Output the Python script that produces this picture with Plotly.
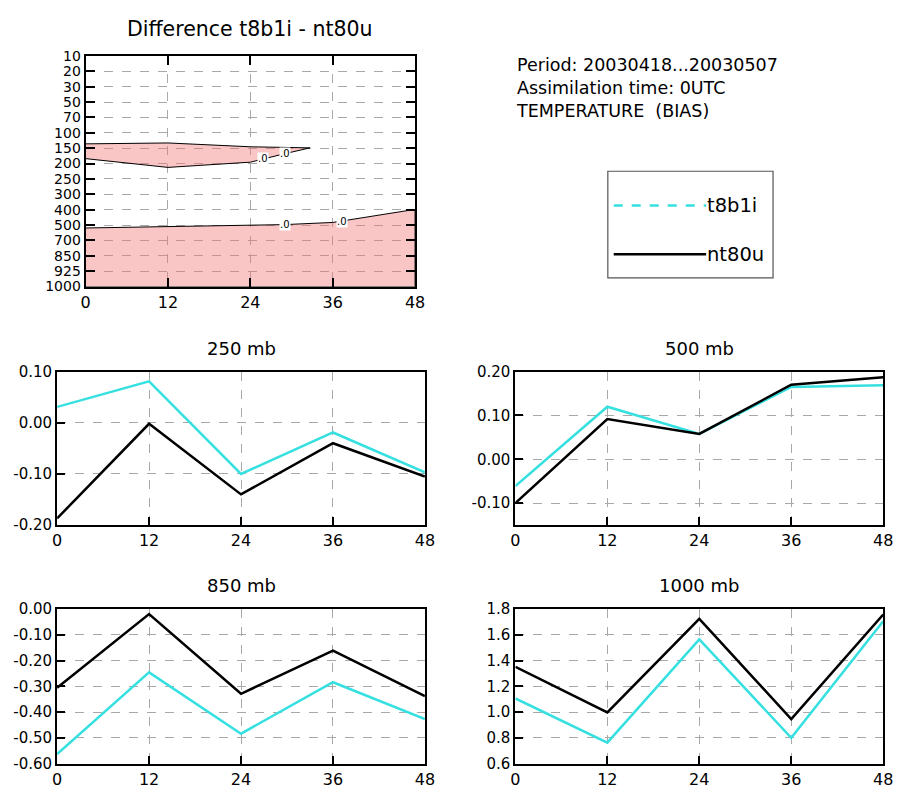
import plotly.graph_objects as go

# ---------------- data ----------------
steps = [0, 12, 24, 36, 48]
levels = [10, 20, 30, 50, 70, 100, 150, 200, 250, 300, 400, 500, 700, 850, 925, 1000]
level_pos = list(range(len(levels)))

t8b1i_250 = [0.031, 0.081, -0.100, -0.019, -0.097]
nt80u_250 = [-0.187, -0.002, -0.140, -0.040, -0.105]
t8b1i_500 = [-0.061, 0.120, 0.058, 0.165, 0.169]
nt80u_500 = [-0.100, 0.092, 0.058, 0.170, 0.187]
t8b1i_850 = [-0.563, -0.246, -0.484, -0.284, -0.427]
nt80u_850 = [-0.306, -0.019, -0.329, -0.161, -0.338]
t8b1i_1000 = [1.106, 0.762, 1.565, 0.800, 1.706]
nt80u_1000 = [1.352, 0.997, 1.724, 0.946, 1.757]

# zero-contour boundaries of the difference field (x = step, y = level index position)
upper_x = [0, 12, 24, 32.7, 29, 26, 24, 12, 0]
upper_y = [5.72, 5.66, 5.91, 5.98, 6.36, 6.68, 6.91, 7.25, 6.68]
lower_x = [0, 12, 24, 29, 36, 48, 48, 0]
lower_y = [11.19, 11.10, 11.00, 10.97, 10.83, 9.98, 15, 15]
label_x = [25.9, 29.1, 29.1, 37.4]
label_y = [6.68, 6.36, 10.97, 10.74]

info_lines = ["Period: 20030418...20030507", "Assimilation time: 0UTC", "TEMPERATURE  (BIAS)"]

panels = [
    ("250 mb", t8b1i_250, nt80u_250, [-0.20, 0.10], [0.10, 0.00, -0.10, -0.20], ["0.10", "0.00", "-0.10", "-0.20"]),
    ("500 mb", t8b1i_500, nt80u_500, [-0.15, 0.20], [0.20, 0.10, 0.00, -0.10], ["0.20", "0.10", "0.00", "-0.10"]),
    ("850 mb", t8b1i_850, nt80u_850, [-0.60, 0.00], [0.00, -0.10, -0.20, -0.30, -0.40, -0.50, -0.60],
     ["0.00", "-0.10", "-0.20", "-0.30", "-0.40", "-0.50", "-0.60"]),
    ("1000 mb", t8b1i_1000, nt80u_1000, [0.6, 1.8], [1.8, 1.6, 1.4, 1.2, 1.0, 0.8, 0.6],
     ["1.8", "1.6", "1.4", "1.2", "1.0", "0.8", "0.6"]),
]

# ---------------- styling ----------------
W, H = 904, 796
FONT = "DejaVu Sans, Liberation Sans, Arial, sans-serif"
CYAN = "#36E0E0"
PINK = "rgba(242,117,117,0.42)"


def px_x(p):
    return p / W


def px_y(p):
    return 1 - p / H


fig = go.Figure()

# top contour panel
fig.add_trace(go.Scatter(x=upper_x, y=upper_y, fill="toself", fillcolor=PINK, mode="lines",
                         line=dict(color="black", width=1), xaxis="x", yaxis="y", showlegend=False,
                         hoverinfo="skip"))
fig.add_trace(go.Scatter(x=lower_x, y=lower_y, fill="toself", fillcolor=PINK, mode="lines",
                         line=dict(color="black", width=1), xaxis="x", yaxis="y", showlegend=False,
                         hoverinfo="skip"))

axis_common = dict(showline=True, linecolor="black", linewidth=2, ticks="inside", ticklen=8,
                   tickwidth=2, tickcolor="black", showgrid=True, gridcolor="#a8a8a8",
                   griddash="dash", gridwidth=1, zeroline=False,
                   tickfont=dict(family=FONT, size=15, color="black"))

layout = dict(width=W, height=H, margin=dict(l=0, r=0, t=0, b=0), plot_bgcolor="white",
              paper_bgcolor="white", showlegend=False, font=dict(family=FONT, color="black"))

layout["xaxis"] = dict(axis_common, domain=[px_x(82), px_x(417)], range=[0, 48], tickvals=steps,
                       anchor="y", mirror="ticks", ticklen=9,
                       tickfont=dict(family=FONT, size=16, color="black"))
layout["yaxis"] = dict(axis_common, domain=[px_y(284), px_y(48)], range=[15, 0], tickvals=level_pos,
                       ticktext=[str(l) for l in levels], anchor="x", mirror="ticks", ticklen=9,
                       tickfont=dict(family=FONT, size=14, color="black"))

domains = [
    ([px_x(53), px_x(427)], [px_y(528), px_y(371)]),
    ([px_x(519), px_x(893)], [px_y(528), px_y(371)]),
    ([px_x(53), px_x(427)], [px_y(772), px_y(614)]),
    ([px_x(519), px_x(893)], [px_y(772), px_y(614)]),
]

annotations = []
for i, (title, cy, bk, yr, tv, tt) in enumerate(panels):
    n = i + 2
    xa, ya = f"x{n}", f"y{n}"
    fig.add_trace(go.Scatter(x=steps, y=cy, mode="lines", line=dict(color=CYAN, width=2.5),
                             xaxis=xa, yaxis=ya, name="t8b1i", showlegend=False))
    fig.add_trace(go.Scatter(x=steps, y=bk, mode="lines", line=dict(color="black", width=2.5),
                             xaxis=xa, yaxis=ya, name="nt80u", showlegend=False))
    dx, dy = domains[i]
    layout[f"xaxis{n}"] = dict(axis_common, domain=dx, range=[0, 48], tickvals=steps, anchor=ya,
                               mirror=True, tickfont=dict(family=FONT, size=16, color="black"))
    layout[f"yaxis{n}"] = dict(axis_common, domain=dy, range=yr, tickvals=tv, ticktext=tt, anchor=xa,
                               mirror=True)
    annotations.append(dict(text=title, x=(dx[0] + dx[1]) / 2, y=dy[1] + 24 / H, xref="paper",
                            yref="paper", showarrow=False, font=dict(family=FONT, size=18),
                            xanchor="center", yanchor="middle"))

# contour labels
for lx, ly in zip(label_x, label_y):
    annotations.append(dict(text=".0", x=lx, y=ly, xref="x", yref="y", showarrow=False,
                            font=dict(family=FONT, size=10), bgcolor="white", borderpad=0))

# titles / info text
annotations.append(dict(text="Difference t8b1i - nt80u", x=px_x(249), y=px_y(20), xref="paper",
                        yref="paper", showarrow=False, font=dict(family=FONT, size=20.5),
                        xanchor="center", yanchor="middle"))
annotations.append(dict(text="<br>".join(info_lines), x=px_x(518), y=px_y(45), xref="paper",
                        yref="paper", showarrow=False, font=dict(family=FONT, size=17.5),
                        xanchor="left", yanchor="top", align="left"))

# legend box
shapes = [
    dict(type="rect", xref="paper", yref="paper", x0=px_x(613), x1=px_x(781), y0=px_y(275),
         y1=px_y(166), line=dict(color="#555555", width=1.2), fillcolor="rgba(0,0,0,0)"),
    dict(type="line", xref="paper", yref="paper", x0=px_x(619), x1=px_x(713), y0=px_y(201),
         y1=px_y(201), line=dict(color=CYAN, width=2.5, dash="dash")),
    dict(type="line", xref="paper", yref="paper", x0=px_x(619), x1=px_x(713), y0=px_y(251),
         y1=px_y(251), line=dict(color="black", width=2.5)),
]
for txt, yy in [("t8b1i", 201), ("nt80u", 251)]:
    annotations.append(dict(text=txt, x=px_x(712), y=px_y(yy), xref="paper", yref="paper",
                            showarrow=False, font=dict(family=FONT, size=19.5), xanchor="left",
                            yanchor="middle"))

layout["annotations"] = annotations
layout["shapes"] = shapes
fig.update_layout(**layout)
fig.write_html("out.html", config={"displayModeBar": False},
               post_script="document.body.style.margin='0';")
